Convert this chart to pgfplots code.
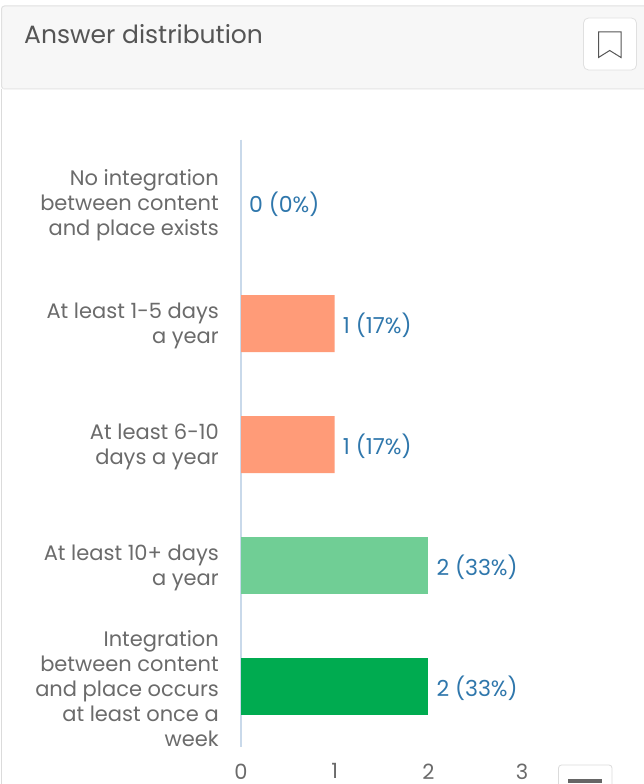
\documentclass[border=0pt]{standalone}
\usepackage{pgfplots}
\pgfplotsset{compat=1.18}
\usepackage{fontspec}
\setmainfont{Poppins}
\definecolor{txt}{HTML}{6B6B6B}
\definecolor{ttl}{HTML}{555555}
\definecolor{lab}{HTML}{2F77AC}
\definecolor{org}{HTML}{FF9B78}
\definecolor{lgr}{HTML}{70CE95}
\definecolor{dgr}{HTML}{00AB50}
\definecolor{axl}{HTML}{C9D9EA}
\begin{document}
\begin{tikzpicture}[x=1pt,y=1pt]
\useasboundingbox (0,0) rectangle (644,784);
% panel chrome
\fill[white] (0,0) rectangle (644,784);
\draw[draw=black!12,fill=black!3,rounded corners=3pt,line width=1pt] (1.5,695) -- (1.5,778) -- (650,778) -- (650,695) -- cycle;
\draw[black!8,line width=1pt] (1.5,695) -- (644,695);
\draw[black!14,line width=1pt] (1.5,695) -- (1.5,0);
\node[anchor=base west,inner sep=0pt,font=\fontsize{25}{28}\selectfont,text=ttl] at (24,740.5) {Answer distribution};
\draw[black!12,fill=white,rounded corners=5pt,line width=.8pt] (583.5,714) rectangle (636.5,766);
\draw[ttl,line width=1pt,line join=miter] (598.5,726.5) -- (598.5,752) -- (621,752) -- (621,726.5) -- (609.7,733.5) -- cycle;
\draw[black!14,fill=white,rounded corners=3pt,line width=.8pt] (558.5,-5) rectangle (612,19);
\fill[black!60] (568,1) rectangle (602,4.5);
\begin{axis}[
  at={(241pt,37.5pt)}, anchor=south west,
  scale only axis, width=281pt, height=607pt,
  xmin=0, xmax=3, ymin=-0.521, ymax=4.496,
  y dir=reverse,
  clip=false,
  axis y line=left, axis x line=bottom,
  x axis line style={draw=none,-},
  y axis line style={draw=axl,line width=1.2pt,-},
  xtick={0,1,2,3}, ytick={0,1,2,3,4},
  major tick length=0pt,
  yticklabels={
    {No integration\\between content\\and place exists},
    {At least 1-5 days\\a year},
    {At least 6-10\\days a year},
    {At least 10+ days\\a year},
    {Integration\\between content\\and place occurs\\at least once a\\week}},
  y tick label style={align=right,anchor=east,xshift=-22pt,yshift=-2.5pt,text=txt,
    font=\fontsize{21}{25}\selectfont,inner sep=0pt},
  x tick label style={text=txt,font=\fontsize{21}{24}\selectfont,inner sep=0pt,yshift=-17pt},
  /pgf/number format/assume math mode=true,
  xbar, bar shift=0pt, bar width=57pt,
  nodes near coords,
  point meta=explicit symbolic,
  every node near coord/.append style={anchor=west,xshift=8pt,yshift=-1.5pt,text=lab,
    font=\fontsize{22}{24}\selectfont,inner sep=0pt},
]
\addplot[draw=axl,fill=axl] coordinates {(0,0) [0 (0\%)]};
\addplot[draw=none,fill=org] coordinates {(1,1) [1 (17\%)] (1,2) [1 (17\%)]};
\addplot[draw=none,fill=lgr] coordinates {(2,3) [2 (33\%)]};
\addplot[draw=none,fill=dgr] coordinates {(2,4) [2 (33\%)]};
\end{axis}
\end{tikzpicture}
\end{document}
